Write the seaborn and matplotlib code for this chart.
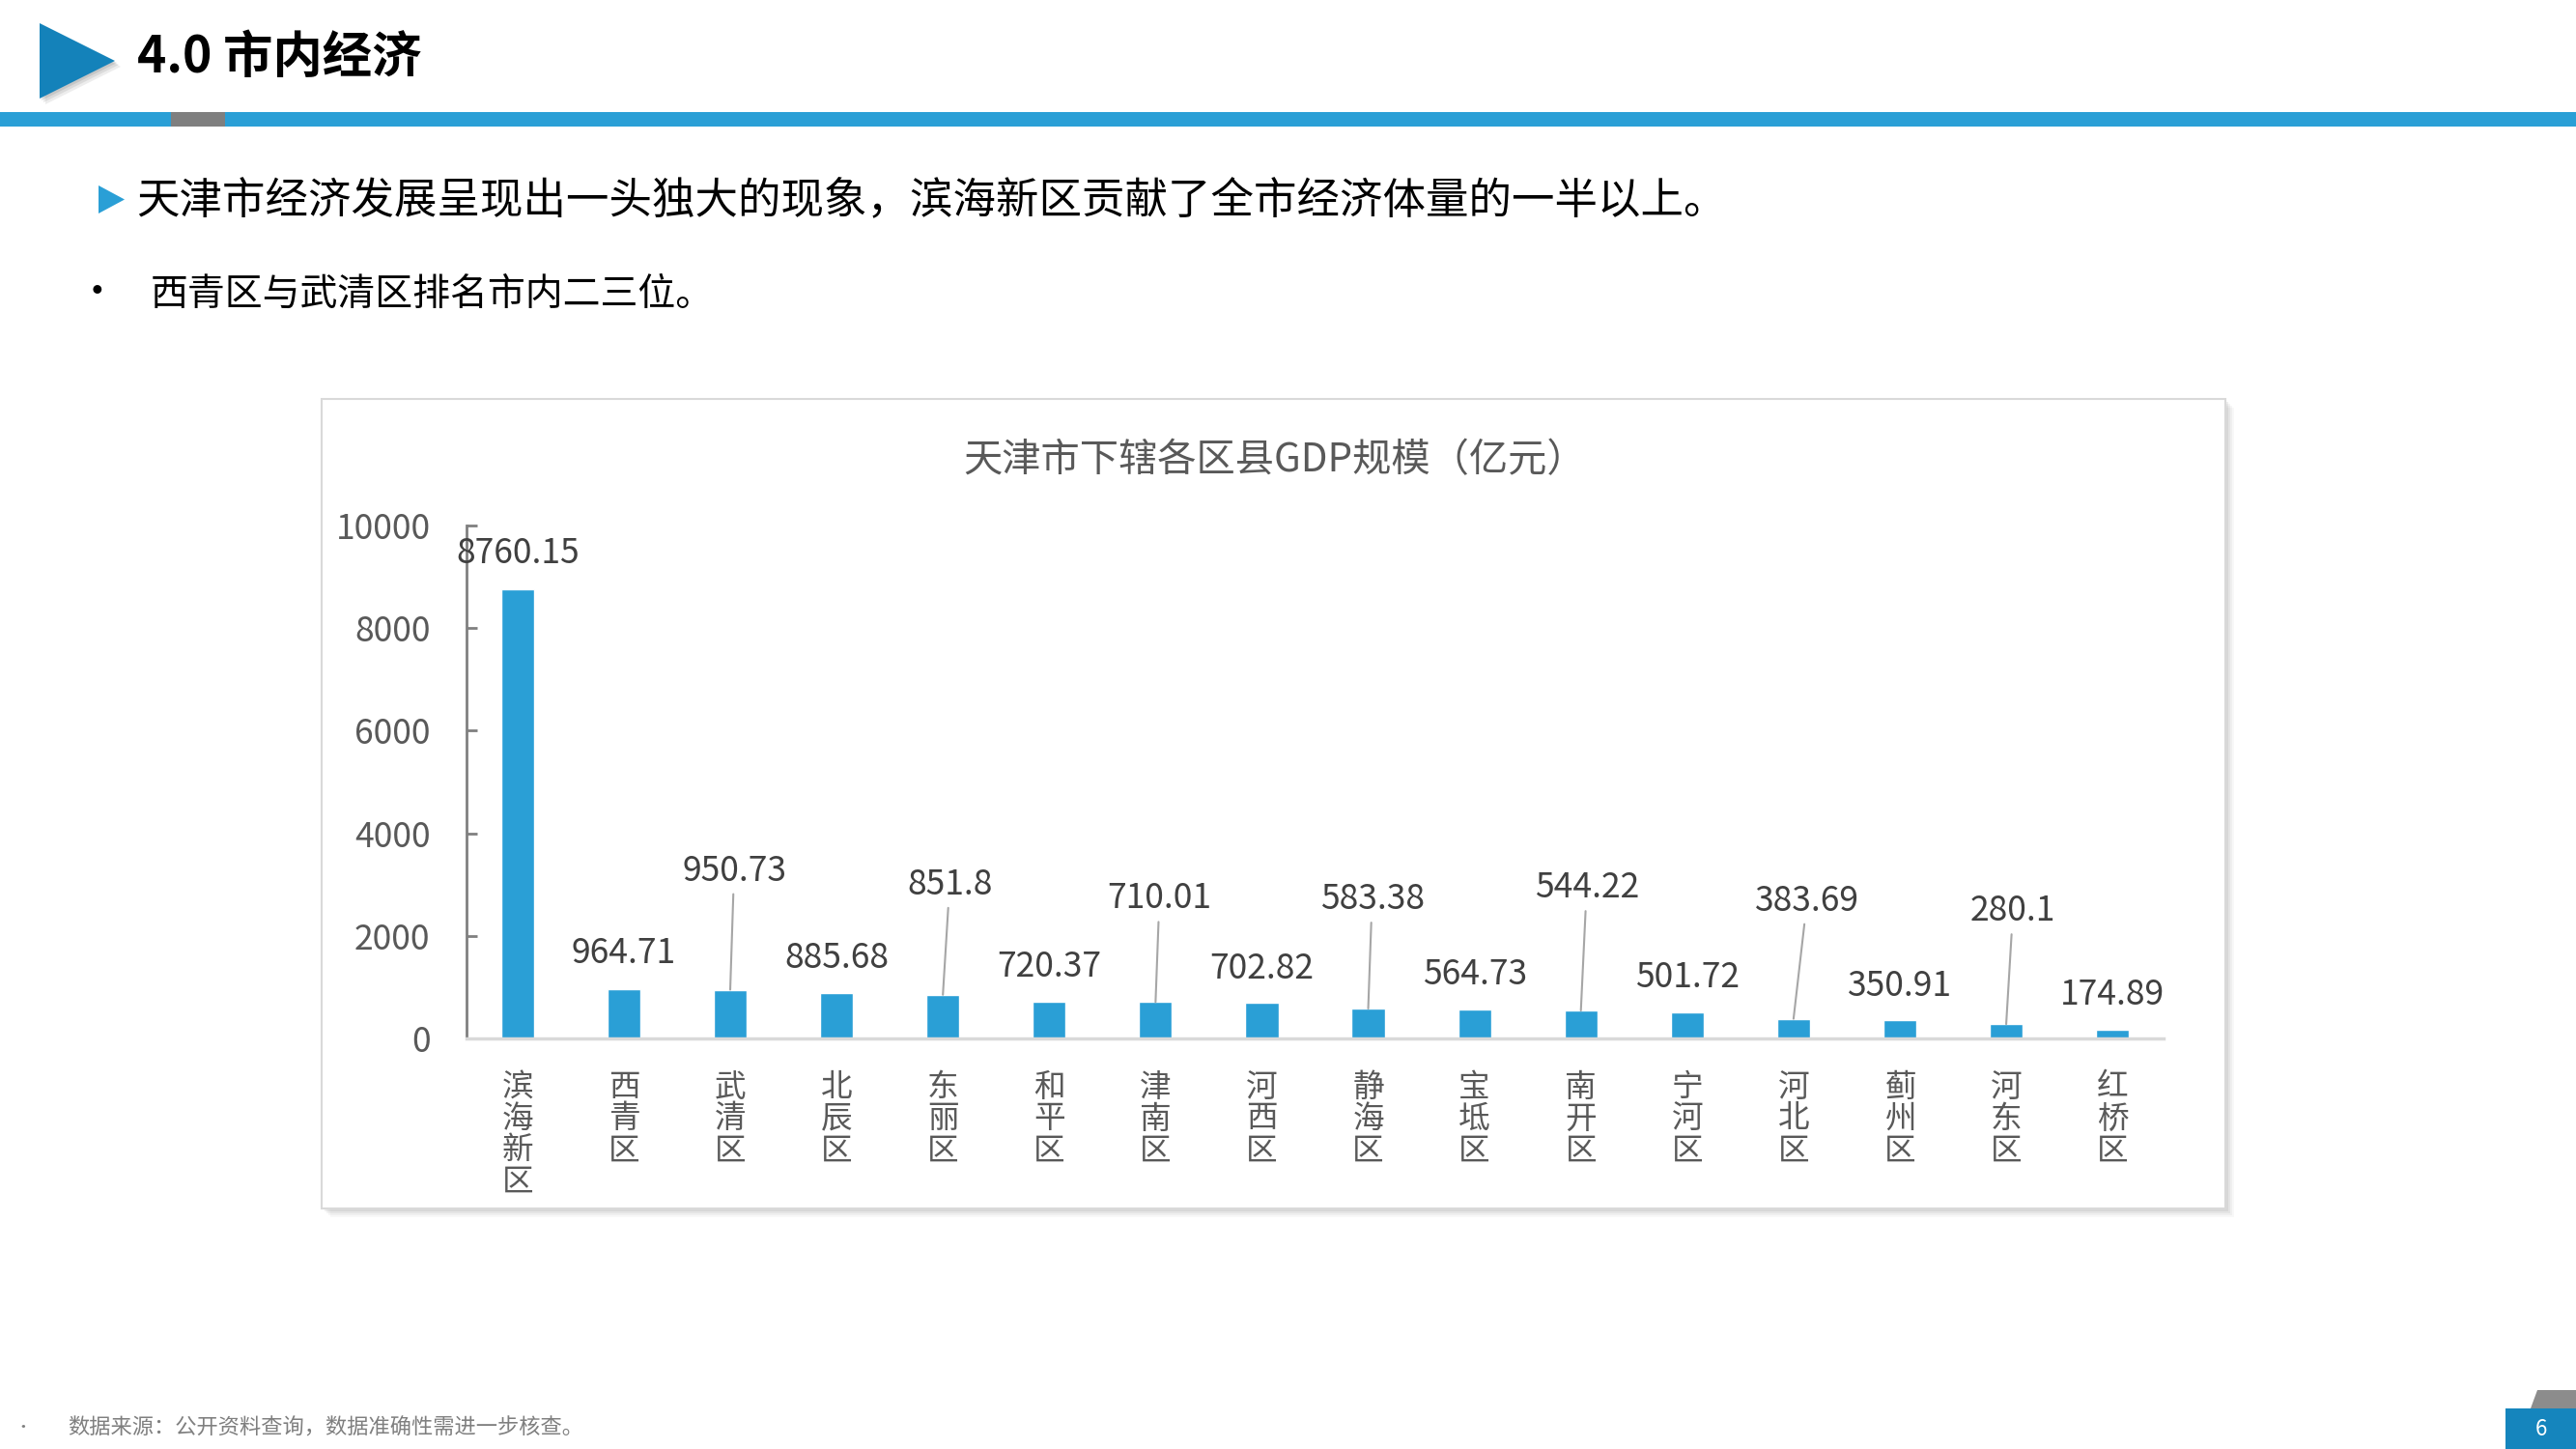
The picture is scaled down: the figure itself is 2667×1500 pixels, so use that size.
import numpy as np
import pandas as pd
import matplotlib
matplotlib.use("Agg")
import matplotlib.pyplot as plt
from matplotlib.patches import Polygon, Rectangle
from matplotlib.transforms import ScaledTranslation
import seaborn as sns

# ---------------- data ----------------
districts = ["滨海新区", "西青区", "武清区", "北辰区", "东丽区", "和平区", "津南区", "河西区",
             "静海区", "宝坻区", "南开区", "宁河区", "河北区", "蓟州区", "河东区", "红桥区"]
gdp = [8760.15, 964.71, 950.73, 885.68, 851.8, 720.37, 710.01, 702.82,
       583.38, 564.73, 544.22, 501.72, 383.69, 350.91, 280.1, 174.89]
y_ticks = [0, 2000, 4000, 6000, 8000, 10000]

page_title = "4.0 市内经济"
bullet1 = "天津市经济发展呈现出一头独大的现象，滨海新区贡献了全市经济体量的一半以上。"
bullet2 = "西青区与武清区排名市内二三位。"
chart_title = "天津市下辖各区县GDP规模（亿元）"
footer = "数据来源：公开资料查询，数据准确性需进一步核查。"
page_no = "6"

# label layout (pixel offsets from bar top), leader flags
label_dy = [37, 37, 123, 36, 114, 36, 107, 35, 113, 36, 127, 36, 122, 35, 117, 36]
label_dx = [0, 0, 4, 0, 7, 0, 4, 0, 4, 0, 6, 0, 14, 0, 7, 0]
leader = [False, False, True, False, True, False, True, False,
          True, False, True, False, True, False, True, False]

# ---------------- style ----------------
sns.set_style("white")
plt.rcParams["font.family"] = ["Noto Sans CJK SC", "DejaVu Sans"]

W, H = 2667, 1500
fig = plt.figure(figsize=(W / 100, H / 100), dpi=100)
fig.patch.set_facecolor("white")


def fx(x):
    return x / W


def fy(y):
    return 1 - y / H


BLUE = "#2A9FD6"
DARKBLUE = "#1482BA"
BAR = "#2A9FD6"

# header triangle with soft shadow
for k, a in [(6, 0.10), (4, 0.12), (2, 0.15)]:
    fig.patches.append(Polygon([(fx(41 + k), fy(24 + k)), (fx(119 + k), fy(63 + k)), (fx(41 + k), fy(102 + k))],
                               closed=True, transform=fig.transFigure, color="#555555", alpha=a, lw=0))
fig.patches.append(Polygon([(fx(41), fy(24)), (fx(119), fy(63)), (fx(41), fy(102))],
                           closed=True, transform=fig.transFigure, color=DARKBLUE, lw=0))
fig.text(fx(142), fy(60), page_title, fontsize=37, fontweight="bold", color="black",
         ha="left", va="center")

# header band
fig.patches.append(Rectangle((0, fy(131)), 1, (131 - 116) / H, transform=fig.transFigure,
                             color=BLUE, lw=0))
fig.patches.append(Rectangle((fx(177), fy(131)), (233 - 177) / W, (131 - 116) / H,
                             transform=fig.transFigure, color="#7F7F7F", lw=0))

# bullet 1
fig.patches.append(Polygon([(fx(102), fy(192)), (fx(129), fy(206.5)), (fx(102), fy(221))],
                           closed=True, transform=fig.transFigure, color=BLUE, lw=0))
fig.text(fx(141), fy(207), bullet1, fontsize=32, color="black", ha="left", va="center")
# bullet 2
fig.text(fx(100), fy(304), "•", fontsize=30, color="black", ha="center", va="center")
fig.text(fx(156), fy(305), bullet2, fontsize=28, color="black", ha="left", va="center")

# chart box with shadow
bx0, by0, bx1, by1 = 333, 413, 2304, 1251
for k, a in [(9, 0.05), (7, 0.07), (5, 0.09), (3, 0.12)]:
    fig.patches.append(Rectangle((fx(bx0 + k), fy(by1 + k)), (bx1 - bx0) / W, (by1 - by0) / H,
                                 transform=fig.transFigure, facecolor="#808080", alpha=a, lw=0))
fig.patches.append(Rectangle((fx(bx0), fy(by1)), (bx1 - bx0) / W, (by1 - by0) / H,
                             transform=fig.transFigure, facecolor="white", edgecolor="#D9D9D9", lw=1.5))

fig.text(fx(1320), fy(477), chart_title, fontsize=29, color="#595959", ha="center", va="center",
         zorder=6)

# chart axes
ax_l, ax_r, ax_b, ax_t = 483, 2240, 1075, 544
ax = fig.add_axes([fx(ax_l), fy(ax_b), (ax_r - ax_l) / W, (ax_b - ax_t) / H])
ax.set_zorder(5)
ax.patch.set_visible(False)

df = pd.DataFrame({"district": districts, "gdp": gdp})
sns.barplot(data=df, x="district", y="gdp", color=BAR, saturation=1, width=0.31, ax=ax)

ax.set_xlim(-0.48, len(districts) - 0.52)
ax.set_ylim(0, 10000)
ax.set_yticks(y_ticks)
ax.set_yticklabels([str(t) for t in y_ticks], fontsize=25.5, color="#595959")
ax.set_xticks(range(len(districts)))
ax.set_xticklabels(["\n".join(d) for d in districts], fontsize=23.5, color="#595959",
                   linespacing=1.03, va="top")
shift = ScaledTranslation(-5 / 100, 0, fig.dpi_scale_trans)
for lab in ax.get_xticklabels():
    lab.set_transform(lab.get_transform() + shift)
ax.set_xlabel("")
ax.set_ylabel("")
ax.tick_params(axis="x", length=0, pad=25)
ax.tick_params(axis="y", direction="in", length=8, width=2, color="#808080", pad=27, left=True)

for s in ["top", "right"]:
    ax.spines[s].set_visible(False)
ax.spines["left"].set_color("#808080")
ax.spines["left"].set_linewidth(2)
ax.spines["bottom"].set_color("#D9D9D9")
ax.spines["bottom"].set_linewidth(2.5)

for i, v in enumerate(gdp):
    kw = dict(xy=(i, v), xytext=(label_dx[i], label_dy[i]), textcoords="offset pixels",
              ha="center", va="center", fontsize=25.5, color="#404040")
    if leader[i]:
        kw["arrowprops"] = dict(arrowstyle="-", color="#A6A6A6", lw=1.5, shrinkA=2, shrinkB=0)
    ax.annotate(f"{v:g}", **kw)

# footer
fig.text(fx(24), fy(1478), "•", fontsize=12, color="#7F7F7F", ha="center", va="center")
fig.text(fx(70), fy(1478), footer, fontsize=16, color="#7F7F7F", ha="left", va="center")

# page number
fig.patches.append(Polygon([(fx(2627), fy(1439)), (fx(2667), fy(1439)), (fx(2667), fy(1458)),
                            (fx(2620), fy(1458))], closed=True, transform=fig.transFigure,
                           color="#8C8C8C", lw=0))
fig.patches.append(Rectangle((fx(2594), 0), (W - 2594) / W, (1500 - 1458) / H,
                             transform=fig.transFigure, color="#1585BD", lw=0))
fig.text(fx(2631), fy(1480), page_no, fontsize=16, color="white", ha="center", va="center")

fig.savefig("out.png", dpi=100, facecolor="white")
